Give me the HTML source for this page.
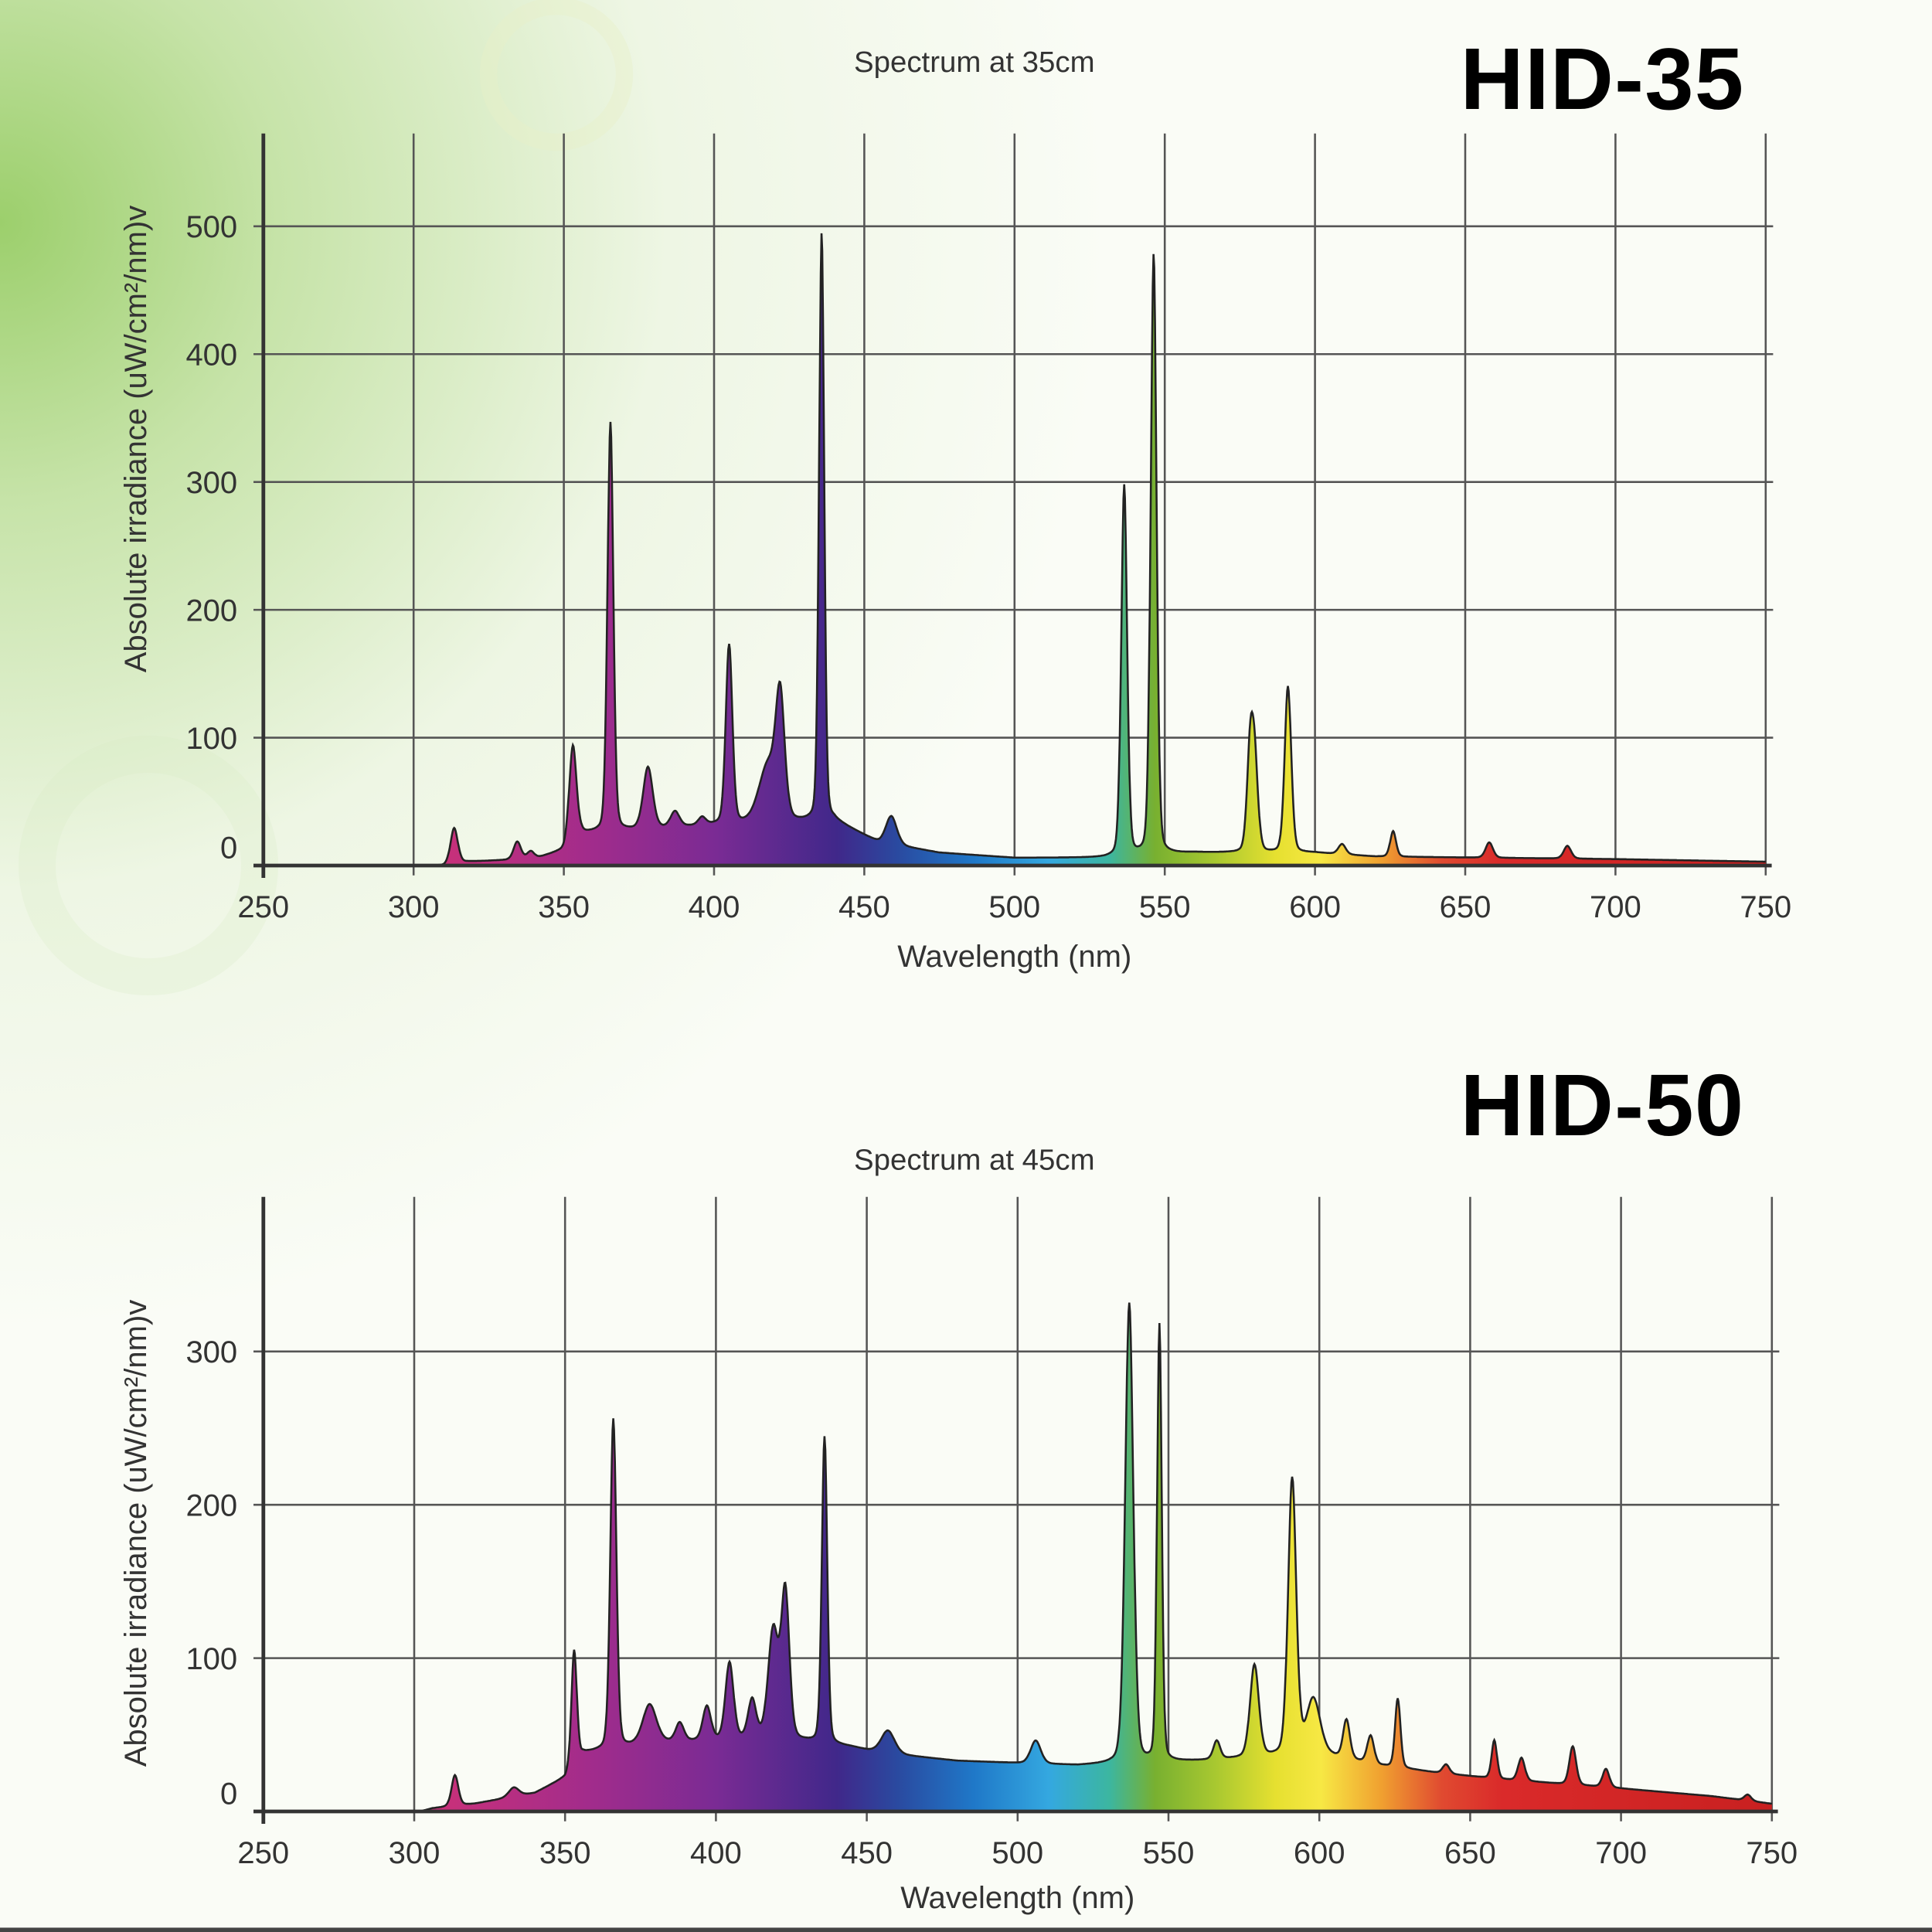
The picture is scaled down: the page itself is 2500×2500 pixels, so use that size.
<!DOCTYPE html>
<html><head><meta charset="utf-8">
<style>
html,body{margin:0;padding:0;background:#f6f9f0;}
svg{display:block;}
text{font-family:"Liberation Sans","DejaVu Sans",sans-serif;fill:#333;}
</style></head>
<body>
<svg id="s" width="2500" height="2500" viewBox="0 0 1562.5 1562.5" xmlns="http://www.w3.org/2000/svg">
<defs>
<radialGradient id="bg1" cx="0" cy="180" r="900" gradientUnits="userSpaceOnUse">
<stop offset="0" stop-color="#9ccf6c"/>
<stop offset="0.25" stop-color="#c6e3a8"/>
<stop offset="0.6" stop-color="#eef6e4"/>
<stop offset="1" stop-color="#fafcf6"/>
</radialGradient>
<linearGradient id="spec" x1="213" x2="1435" y1="0" y2="0" gradientUnits="userSpaceOnUse">
<stop offset="0.12" stop-color="#c8307a"/>
<stop offset="0.22" stop-color="#a02c8c"/>
<stop offset="0.30" stop-color="#7a2b94"/>
<stop offset="0.38" stop-color="#40288a"/>
<stop offset="0.42" stop-color="#2a4aa0"/>
<stop offset="0.47" stop-color="#1f78c8"/>
<stop offset="0.52" stop-color="#34a8e0"/>
<stop offset="0.56" stop-color="#3cb6a0"/>
<stop offset="0.59" stop-color="#78b030"/>
<stop offset="0.63" stop-color="#a8c830"/>
<stop offset="0.67" stop-color="#e6e030"/>
<stop offset="0.70" stop-color="#f7e844"/>
<stop offset="0.74" stop-color="#f0a030"/>
<stop offset="0.78" stop-color="#e04a30"/>
<stop offset="0.82" stop-color="#da2a2a"/>
<stop offset="1" stop-color="#c82020"/>
</linearGradient>
</defs>
<rect width="1562.5" height="1562.5" fill="url(#bg1)"/>
<circle cx="450" cy="60" r="55" fill="none" stroke="#e8f0c8" stroke-width="14" opacity="0.4"/>
<circle cx="120" cy="700" r="90" fill="none" stroke="#d8ecc4" stroke-width="30" opacity="0.25"/>
<g id="c1"></g><g id="c2"></g>
<text x="788" y="58" font-size="24" text-anchor="middle">Spectrum at 35cm</text>
<text x="1181" y="88" font-size="71" font-weight="bold" style="fill:#000" textLength="229">HID-35</text>
<text x="788" y="946" font-size="24" text-anchor="middle">Spectrum at 45cm</text>
<text x="1181" y="918" font-size="71" font-weight="bold" style="fill:#000" textLength="229">HID-50</text>
<rect x="0" y="1559" width="1562.5" height="4" fill="#444"/>
</svg>
<script>
function gen(gid,cfg){
  var g=document.getElementById(gid),h='';
  var X=function(l){return cfg.x0+(l-250)*cfg.kx;};
  var Y=function(v){return cfg.y0-v*cfg.ky;};
  for(var l=300;l<=750;l+=50){h+='<line x1="'+X(l)+'" x2="'+X(l)+'" y1="'+cfg.top+'" y2="'+(cfg.y0+8)+'" stroke="#555" stroke-width="1.6"/>';}
  for(var v=100;v<=cfg.max;v+=100){h+='<line x1="'+(cfg.x0-8)+'" x2="'+(X(750)+6)+'" y1="'+Y(v)+'" y2="'+Y(v)+'" stroke="#555" stroke-width="1.6"/>';
    h+='<text x="192" y="'+(Y(v)+9)+'" font-size="25" text-anchor="end">'+v+'</text>';}
  h+='<text x="192" y="'+(Y(0)-6)+'" font-size="25" text-anchor="end">0</text>';
  for(var l=250;l<=750;l+=50){h+='<text x="'+X(l)+'" y="'+(cfg.y0+42)+'" font-size="25" text-anchor="middle">'+l+'</text>';}
  h+='<text x="'+X(500)+'" y="'+(cfg.y0+cfg.wl)+'" font-size="25" text-anchor="middle">Wavelength (nm)</text>';
  h+='<text transform="translate(118,'+cfg.yt+') rotate(-90)" font-size="25" text-anchor="middle">Absolute irradiance (uW/cm²/nm)v</text>';
  var pts=[];
  for(var l=cfg.start;l<=750;l+=0.25){
    var v=cfg.base(l);
    cfg.peaks.forEach(function(p){var d=(l-p[0])/(p[2]*cfg.w);v+=p[1]*(0.75*Math.exp(-d*d/2)+0.25/(1+d*d));});
    pts.push([X(l),Y(v)]);
  }
  var d='M'+pts.map(function(p){return p[0].toFixed(1)+','+p[1].toFixed(1);}).join('L');
  h+='<path d="'+d+'L'+X(750)+','+Y(0)+'L'+X(cfg.start)+','+Y(0)+'Z" fill="url(#spec)"/>';
  h+='<path d="'+d+'" fill="none" stroke="#222" stroke-width="1.6"/>';
  h+='<line x1="'+(cfg.x0-8)+'" x2="'+X(752)+'" y1="'+cfg.y0+'" y2="'+cfg.y0+'" stroke="#333" stroke-width="3"/>';
  h+='<line x1="'+cfg.x0+'" x2="'+cfg.x0+'" y1="'+cfg.top+'" y2="'+(cfg.y0+10)+'" stroke="#333" stroke-width="3"/>';
  g.innerHTML=h;
}
function lerp(tab,l){for(var i=0;i<tab.length-1;i++){if(l>=tab[i][0]&&l<=tab[i+1][0]){var t=(l-tab[i][0])/(tab[i+1][0]-tab[i][0]);return tab[i][1]+(tab[i+1][1]-tab[i][1])*t;}}return 0;}
var b1=[[250,0],[310,0],[318,3],[340,5],[350,12],[356,25],[400,32],[440,35],[455,18],[475,10],[500,6],[530,6],[560,10],[600,10],[620,7],[700,5],[750,3]];
gen('c1',{x0:213,kx:2.43,y0:700,ky:1.034,top:108,max:500,yt:355,start:300,w:1.25,wl:82,
 base:function(l){return lerp(b1,l);},
 peaks:[[313.5,28,1],[334.5,14,1],[339,6,1],[353,75,1],[365.5,320,0.8],[378,48,1.3],[387,12,1.2],[396,6,1],[405,140,0.9],[418,45,2.5],[422,90,1.2],[435.8,460,0.7],[459,22,1.5],[536.5,290,0.8],[546.3,470,0.8],[578.5,80,0.9],[580,60,0.9],[591,130,0.9],[609,8,1],[626,20,0.8],[658,12,1],[684,10,1]]});
var b2=[[250,0],[302,0],[306,2],[320,5],[340,12],[350,22],[356,38],[380,45],[420,48],[445,42],[455,38],[480,33],[520,30],[560,33],[600,38],[620,30],[640,25],[660,21],[700,15],[730,10],[750,5]];
gen('c2',{x0:213,kx:2.44,y0:1465,ky:1.24,top:968,max:300,yt:1240,start:300,w:1.15,wl:78,
 base:function(l){return lerp(b2,l);},
 peaks:[[313.5,20,1],[333,6,1.5],[353,75,0.8],[366,215,0.9],[378,25,2],[388,12,1.2],[397,22,1.2],[404.5,50,1.2],[412,25,1.2],[419,70,1.5],[423,95,1.2],[436,200,0.8],[457,15,2],[506,15,1.5],[537,300,1.2],[547,285,0.7],[566,12,1],[578.5,60,1.3],[591,180,1.2],[598,35,2],[609,25,1],[617,18,1],[626,45,0.8],[642,6,1],[658,25,0.8],[667,15,1],[684,25,1],[695,12,1],[742,4,1]]});
</script>
</body></html>
